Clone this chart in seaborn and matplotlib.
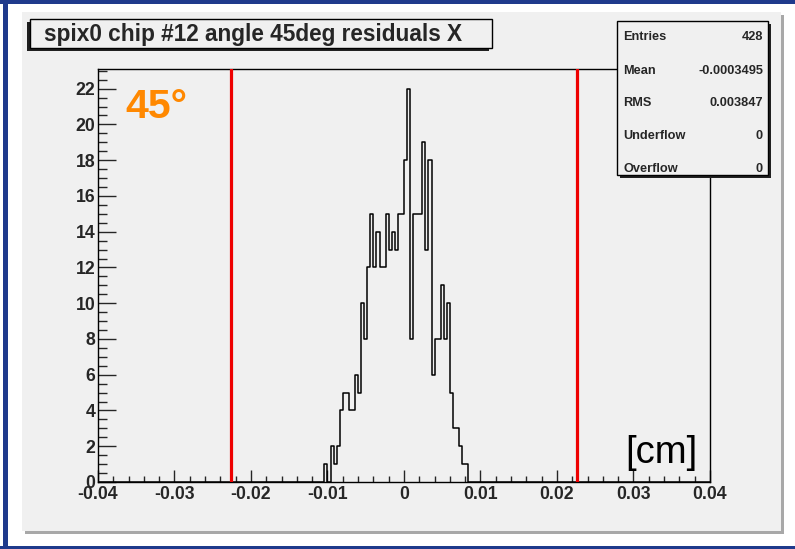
import numpy as np
import pandas as pd
import matplotlib
matplotlib.use("Agg")
import matplotlib.pyplot as plt
import seaborn as sns
from matplotlib.patches import Rectangle

# ---------------- data ----------------
title = "spix0 chip #12 angle 45deg residuals X"
x_range = (-0.04, 0.04)
n_bins = 200
first_bin_low = -0.0104          # left edge of first listed bin
counts = [1, 0, 2, 1, 2, 4, 5, 5, 4, 4, 6, 5, 10, 8, 12, 15, 12, 14, 12, 12,
          15, 13, 14, 13, 15, 15,
          18, 22, 8, 15, 15, 15, 19, 13, 18, 6, 8, 8, 11, 8, 10, 5, 3, 3, 2, 1, 1]
cut_lines = [-0.0226, 0.0226]
x_ticks = [-0.04, -0.03, -0.02, -0.01, 0.0, 0.01, 0.02, 0.03, 0.04]
x_tick_labels = ["-0.04", "-0.03", "-0.02", "-0.01", "0", "0.01", "0.02", "0.03", "0.04"]
y_ticks = [0, 2, 4, 6, 8, 10, 12, 14, 16, 18, 20, 22]
y_tick_labels = [str(v) for v in y_ticks]
y_max = 23.1
stat_names = ["Entries", "Mean", "RMS", "Underflow", "Overflow"]
stat_values = ["428", "-0.0003495", "0.003847", "0", "0"]
angle_label = "45°"
unit_label = "[cm]"

# --------------- build frame ---------------
width = (x_range[1] - x_range[0]) / n_bins
centers = first_bin_low + width * (np.arange(len(counts)) + 0.5)
df = pd.DataFrame({"x": centers, "w": counts})

sns.set_style("white")
plt.rcParams["font.family"] = ["Liberation Sans", "DejaVu Sans"]

W, H = 795, 549
fig = plt.figure(figsize=(W / 100, H / 100), dpi=100, facecolor="white")

def fx(px):
    return px / W

def fy(py):
    return 1 - py / H

# background canvas / pad
bg = fig.add_axes([0, 0, 1, 1], zorder=0)
bg.set_xlim(0, W); bg.set_ylim(H, 0); bg.axis("off")
navy = "#1f3a8c"
bg.add_patch(Rectangle((0, 0), W, H, facecolor="white", edgecolor="none"))
bg.add_patch(Rectangle((0, 0), W, 4, facecolor=navy, edgecolor="none"))
bg.add_patch(Rectangle((3, 0), 5, H, facecolor=navy, edgecolor="none"))
bg.add_patch(Rectangle((0, 546), W, 3, facecolor=navy, edgecolor="none"))
bg.add_patch(Rectangle((25, 15), 759, 519, facecolor="#a8a8a8", edgecolor="none"))
bg.add_patch(Rectangle((22, 12), 759, 519, facecolor="#f0f0f0", edgecolor="none"))

# main axes
ax_l, ax_r, ax_t, ax_b = 98, 710, 69, 482
ax = fig.add_axes([fx(ax_l), fy(ax_b), (ax_r - ax_l) / W, (ax_b - ax_t) / H], zorder=1)
ax.set_facecolor("#f0f0f0")

sns.histplot(data=df, x="x", weights="w", bins=n_bins, binrange=x_range,
             element="step", fill=False, color="black", linewidth=1.1, ax=ax)

for xc in cut_lines:
    ax.axvline(xc, color="#ee0000", linewidth=2.3, zorder=3)

ax.set_xlim(*x_range)
ax.set_ylim(0, y_max)
ax.set_xlabel(""); ax.set_ylabel("")
ax.set_xticks(x_ticks)
ax.set_xticklabels(x_tick_labels)
ax.set_yticks(y_ticks)
ax.set_yticklabels(y_tick_labels)
ax.set_xticks(np.arange(-0.04, 0.0401, 0.002), minor=True)
ax.set_yticks(np.arange(0, 23.01, 0.5), minor=True)
ax.tick_params(axis="x", which="major", direction="in", length=8.6, width=1, pad=3,
               labelsize=12.7, bottom=True, top=False)
ax.tick_params(axis="x", which="minor", direction="in", length=4.3, width=1, bottom=True, top=False)
ax.tick_params(axis="y", which="major", direction="in", length=13, width=1, pad=2,
               labelsize=12.7, left=True, right=False)
ax.tick_params(axis="y", which="minor", direction="in", length=6.5, width=1, left=True, right=False)
for lab in ax.get_xticklabels() + ax.get_yticklabels():
    lab.set_fontweight("bold")
for sp in ax.spines.values():
    sp.set_visible(True)
    sp.set_color("black")
    sp.set_linewidth(1.0)

ax.text(0.045, 0.955, angle_label, transform=ax.transAxes, color="#ff8800",
        fontsize=29.5, fontweight="bold", ha="left", va="top")

# overlay: title & stats
ov = fig.add_axes([0, 0, 1, 1], zorder=2)
ov.set_xlim(0, W); ov.set_ylim(H, 0); ov.axis("off")
ov.patch.set_alpha(0)

# [cm] label
ov.text(697, 463, unit_label, fontsize=27.5, ha="right", va="baseline", color="black")

# title box (shadow bottom-left)
ov.add_patch(Rectangle((27, 22), 462, 29, facecolor="#202020", edgecolor="none"))
ov.add_patch(Rectangle((30, 19), 462, 29, facecolor="#f0f0f0", edgecolor="black", linewidth=1))
ov.text(44, 34.5, title, fontsize=16.3, fontweight="bold", ha="left", va="center")

# stats box (shadow bottom-right)
sx, sy, sw, sh = 617, 21, 151, 154
ov.add_patch(Rectangle((sx + 3, sy + 3), sw, sh, facecolor="#202020", edgecolor="none"))
ov.add_patch(Rectangle((sx, sy), sw, sh, facecolor="#f0f0f0", edgecolor="black", linewidth=1))
row_y = [37, 71, 103, 136, 169]
for name, val, ry in zip(stat_names, stat_values, row_y):
    ov.text(623, ry, name, fontsize=9.2, fontweight="bold", ha="left", va="center")
    ov.text(763, ry, val, fontsize=9.2, fontweight="bold", ha="right", va="center")

fig.savefig("out.png", dpi=100, facecolor="white")
